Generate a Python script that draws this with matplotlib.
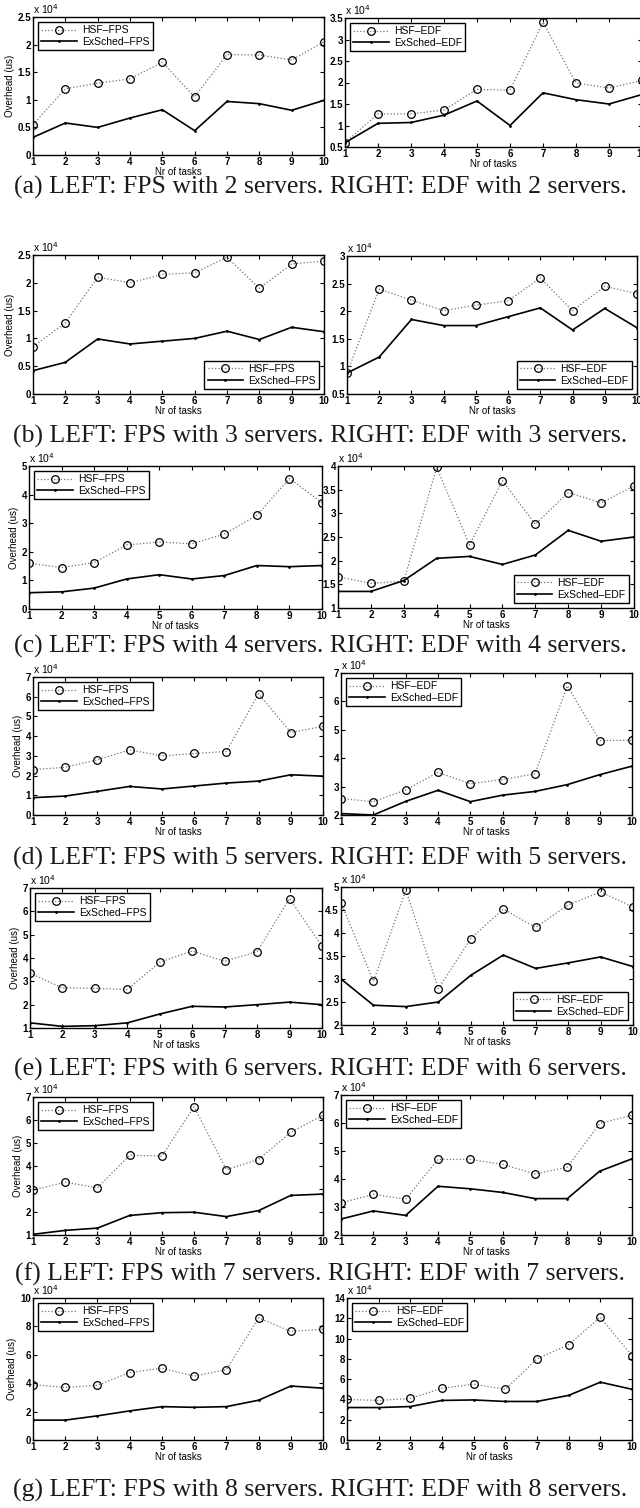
import matplotlib
matplotlib.use("Agg")
import matplotlib.pyplot as plt

plt.rcParams['font.family'] = ['Liberation Sans', 'DejaVu Sans']

tasks = [1, 2, 3, 4, 5, 6, 7, 8, 9, 10]

# overhead values, in units of 10^4 us
hsf_fps_2 = [0.55, 1.20, 1.30, 1.38, 1.68, 1.05, 1.82, 1.81, 1.72, 2.05]
ex_fps_2 = [0.32, 0.58, 0.50, 0.67, 0.82, 0.44, 0.97, 0.93, 0.81, 0.99]
hsf_edf_2 = [0.60, 1.27, 1.27, 1.36, 1.84, 1.82, 3.40, 1.99, 1.87, 2.05]
ex_edf_2 = [0.60, 1.05, 1.07, 1.24, 1.57, 1.00, 1.76, 1.60, 1.50, 1.72]

hsf_fps_3 = [0.85, 1.28, 2.10, 2.00, 2.15, 2.18, 2.46, 1.90, 2.34, 2.39]
ex_fps_3 = [0.42, 0.57, 0.99, 0.90, 0.95, 1.00, 1.13, 0.98, 1.20, 1.12]
hsf_edf_3 = [0.88, 2.40, 2.20, 2.01, 2.11, 2.19, 2.60, 2.01, 2.45, 2.32]
ex_edf_3 = [0.88, 1.17, 1.85, 1.74, 1.74, 1.90, 2.06, 1.66, 2.05, 1.70]

hsf_fps_4 = [1.60, 1.45, 1.62, 2.24, 2.34, 2.28, 2.62, 3.28, 4.56, 3.72]
ex_fps_4 = [0.57, 0.60, 0.73, 1.05, 1.20, 1.05, 1.17, 1.52, 1.48, 1.52]
hsf_edf_4 = [1.66, 1.52, 1.57, 3.97, 2.33, 3.69, 2.77, 3.44, 3.22, 3.58]
ex_edf_4 = [1.35, 1.35, 1.58, 2.05, 2.09, 1.92, 2.12, 2.64, 2.41, 2.50]

hsf_fps_5 = [2.30, 2.42, 2.80, 3.30, 3.00, 3.12, 3.22, 6.15, 4.18, 4.50]
ex_fps_5 = [0.88, 0.96, 1.20, 1.45, 1.32, 1.47, 1.62, 1.72, 2.04, 1.97]
hsf_edf_5 = [2.58, 2.47, 2.88, 3.50, 3.10, 3.25, 3.45, 6.55, 4.62, 4.63]
ex_edf_5 = [2.05, 2.00, 2.48, 2.87, 2.47, 2.70, 2.83, 3.07, 3.42, 3.72]

hsf_fps_6 = [3.35, 2.72, 2.70, 2.65, 3.82, 4.30, 3.86, 4.27, 6.55, 4.50]
ex_fps_6 = [1.22, 1.07, 1.10, 1.22, 1.60, 1.93, 1.90, 2.00, 2.11, 2.00]
hsf_edf_6 = [4.66, 2.95, 4.93, 2.79, 3.88, 4.52, 4.12, 4.61, 4.89, 4.57]
ex_edf_6 = [3.00, 2.43, 2.40, 2.50, 3.08, 3.52, 3.23, 3.35, 3.48, 3.27]

hsf_fps_7 = [2.95, 3.30, 3.05, 4.47, 4.43, 6.58, 3.84, 4.28, 5.47, 6.20]
ex_fps_7 = [1.03, 1.20, 1.30, 1.85, 1.97, 1.99, 1.80, 2.06, 2.72, 2.78]
hsf_edf_7 = [3.15, 3.45, 3.28, 4.70, 4.70, 4.52, 4.18, 4.42, 5.98, 6.28]
ex_edf_7 = [2.57, 2.86, 2.70, 3.74, 3.65, 3.52, 3.30, 3.30, 4.28, 4.72]

hsf_fps_8 = [3.90, 3.70, 3.85, 4.75, 5.05, 4.50, 4.95, 8.60, 7.65, 7.80]
ex_fps_8 = [1.40, 1.40, 1.70, 2.05, 2.35, 2.30, 2.35, 2.80, 3.80, 3.65]
hsf_edf_8 = [4.00, 3.90, 4.10, 5.10, 5.50, 5.00, 8.00, 9.40, 12.10, 8.30]
ex_edf_8 = [3.20, 3.20, 3.30, 3.90, 3.95, 3.80, 3.80, 4.40, 5.70, 5.00]

captions = [
    "(a) LEFT: FPS with 2 servers. RIGHT: EDF with 2 servers.",
    "(b) LEFT: FPS with 3 servers. RIGHT: EDF with 3 servers.",
    "(c) LEFT: FPS with 4 servers. RIGHT: EDF with 4 servers.",
    "(d) LEFT: FPS with 5 servers. RIGHT: EDF with 5 servers.",
    "(e) LEFT: FPS with 6 servers. RIGHT: EDF with 6 servers.",
    "(f) LEFT: FPS with 7 servers. RIGHT: EDF with 7 servers.",
    "(g) LEFT: FPS with 8 servers. RIGHT: EDF with 8 servers.",
]
caption_y = [187, 436, 646, 858, 1069, 1274, 1490]

W, H = 640, 1508
fig = plt.figure(figsize=(W / 100, H / 100), dpi=100)


def px_axes(x0, y0, x1, y1):
    return fig.add_axes([x0 / W, 1 - y1 / H, (x1 - x0) / W, (y1 - y0) / H])


def panel(box, hsf, ex, kind, ylim, step, loc, ylabel):
    ax = px_axes(*box)
    ax.plot(tasks, hsf, linestyle=':', color='0.45', lw=0.9, marker='o',
            ms=5.5, mfc='none', mec='black', mew=0.9, label='HSF\u2013' + kind)
    ax.plot(tasks, ex, linestyle='-', color='black', lw=1.2, marker='.',
            ms=2, label='ExSched\u2013' + kind)
    ax.set_xlim(1, 10)
    ax.set_ylim(*ylim)
    ax.set_xticks(tasks)
    yt = []
    v = ylim[0]
    while v <= ylim[1] + 1e-9:
        yt.append(round(v, 2))
        v += step
    ax.set_yticks(yt)
    ax.set_yticklabels(['%g' % t for t in yt])
    ax.tick_params(direction='in', top=True, right=True, length=3, width=0.8,
                   labelsize=7, pad=1.5)
    for lab in ax.get_xticklabels() + ax.get_yticklabels():
        lab.set_fontweight('bold')
    for s in ax.spines.values():
        s.set_linewidth(1.0)
    ax.set_xlabel('Nr of tasks', fontsize=7, labelpad=0)
    if ylabel:
        ax.set_ylabel('Overhead (us)', fontsize=7, labelpad=2)
    ax.text(0.0, 1.005, r'x 10$^4$', transform=ax.transAxes, fontsize=7.5,
            ha='left', va='bottom')
    leg = ax.legend(loc=loc, fontsize=7.5, fancybox=False, edgecolor='black',
                    framealpha=1, borderpad=0.3, labelspacing=0.15,
                    handlelength=3.4, handletextpad=0.5, borderaxespad=0.5)
    leg.get_frame().set_linewidth(1.0)
    return ax


panels = [
    ((33, 17, 324, 155), hsf_fps_2, ex_fps_2, 'FPS', (0, 2.5), 0.5, 'upper left', True),
    ((345, 18, 642, 147), hsf_edf_2, ex_edf_2, 'EDF', (0.5, 3.5), 0.5, 'upper left', False),
    ((33, 255, 324, 394), hsf_fps_3, ex_fps_3, 'FPS', (0, 2.5), 0.5, 'lower right', True),
    ((347, 256, 637, 394), hsf_edf_3, ex_edf_3, 'EDF', (0.5, 3), 0.5, 'lower right', False),
    ((29, 466, 322, 609), hsf_fps_4, ex_fps_4, 'FPS', (0, 5), 1, 'upper left', True),
    ((338, 466, 634, 608), hsf_edf_4, ex_edf_4, 'EDF', (1, 4), 0.5, 'lower right', False),
    ((33, 677, 323, 815), hsf_fps_5, ex_fps_5, 'FPS', (0, 7), 1, 'upper left', True),
    ((341, 673, 632, 815), hsf_edf_5, ex_edf_5, 'EDF', (2, 7), 1, 'upper left', False),
    ((30, 888, 322, 1028), hsf_fps_6, ex_fps_6, 'FPS', (1, 7), 1, 'upper left', True),
    ((341, 887, 633, 1025), hsf_edf_6, ex_edf_6, 'EDF', (2, 5), 0.5, 'lower right', False),
    ((33, 1097, 323, 1235), hsf_fps_7, ex_fps_7, 'FPS', (1, 7), 1, 'upper left', True),
    ((341, 1095, 632, 1235), hsf_edf_7, ex_edf_7, 'EDF', (2, 7), 1, 'upper left', False),
    ((33, 1298, 323, 1440), hsf_fps_8, ex_fps_8, 'FPS', (0, 10), 2, 'upper left', True),
    ((347, 1298, 632, 1440), hsf_edf_8, ex_edf_8, 'EDF', (0, 14), 2, 'upper left', False),
]

for p in panels:
    panel(*p)

for cap, y in zip(captions, caption_y):
    fig.text(0.5, 1 - y / H, cap, ha='center', va='center', fontsize=18.5,
             family='Liberation Serif', color='0.1')

fig.savefig('out.png', dpi=100)
